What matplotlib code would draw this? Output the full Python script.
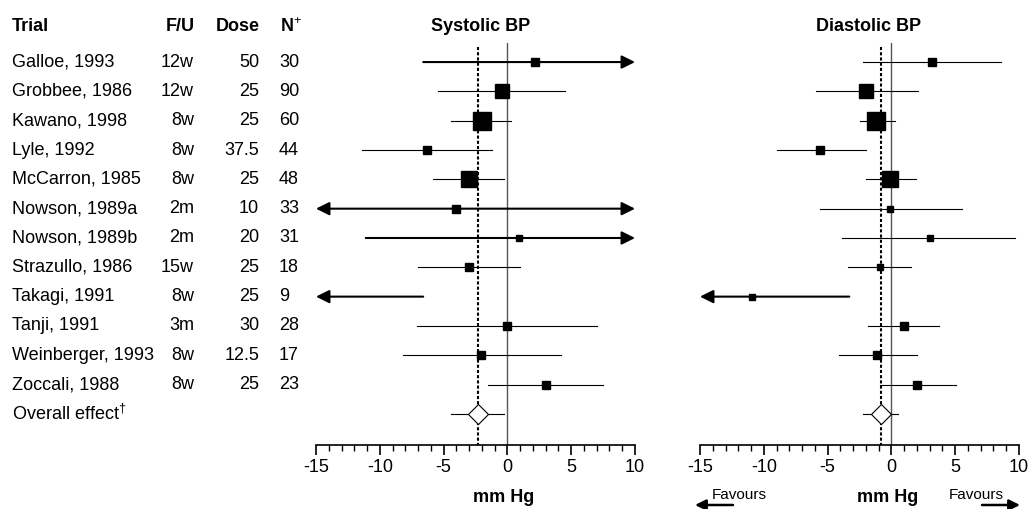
import numpy as np
import matplotlib
matplotlib.use('Agg')
import matplotlib.pyplot as plt
from matplotlib.transforms import blended_transform_factory

plt.rcParams['font.family'] = ['Liberation Sans', 'DejaVu Sans']
plt.rcParams['axes.unicode_minus'] = False
plt.rcParams['mathtext.fontset'] = 'custom'
plt.rcParams['mathtext.rm'] = 'Liberation Sans'
plt.rcParams['mathtext.bf'] = 'Liberation Sans:bold'

trials = ['Galloe, 1993', 'Grobbee, 1986', 'Kawano, 1998', 'Lyle, 1992',
          'McCarron, 1985', 'Nowson, 1989a', 'Nowson, 1989b', 'Strazullo, 1986',
          'Takagi, 1991', 'Tanji, 1991', 'Weinberger, 1993', 'Zoccali, 1988']
follow_up = ['12w', '12w', '8w', '8w', '8w', '2m', '2m', '15w', '8w', '3m', '8w', '8w']
dose = ['50', '25', '25', '37.5', '25', '10', '20', '25', '25', '30', '12.5', '25']
n_pts = ['30', '90', '60', '44', '48', '33', '31', '18', '9', '28', '17', '23']

# None = falls outside the -15..10 scale (drawn as an arrow)
sbp_mean = [2.2, -0.4, -2.0, -6.3, -3.0, -4.0, 0.9, -3.0, None, 0.0, -2.1, 3.0]
sbp_lo = [-6.6, -5.4, -4.4, -11.4, -5.8, None, -11.1, -7.0, None, -7.1, -8.2, -1.5]
sbp_hi = [None, 4.5, 0.3, -1.2, -0.3, None, None, 1.0, -6.6, 7.0, 4.2, 7.5]
sbp_wt = [5.0, 14.5, 25.1, 5.3, 22.4, 4.6, 3.8, 4.1, None, 5.3, 4.6, 5.3]
sbp_overall = [-2.3, -4.4, -0.3]

dbp_mean = [3.2, -2.0, -1.2, -5.6, -0.1, -0.1, 3.0, -0.9, -10.9, 1.0, -1.1, 2.0]
dbp_lo = [-2.2, -5.9, -2.5, -9.0, -2.0, -5.6, -3.9, -3.4, None, -1.8, -4.1, -0.9]
dbp_hi = [8.6, 2.1, 0.3, -2.0, 1.9, 5.5, 9.7, 1.5, -3.3, 3.7, 2.0, 5.1]
dbp_wt = [5.1, 13.9, 27.1, 6.0, 19.5, 3.9, 3.9, 3.9, 2.8, 4.6, 4.2, 5.1]
dbp_overall = [-0.8, -2.2, 0.5]

x_ticks = [-15, -10, -5, 0, 5, 10]

W, H = 1028, 509
fig = plt.figure(figsize=(W / 100, H / 100), dpi=100)

def px(x, y):
    return x / W, 1 - y / H

ax1 = fig.add_axes([316 / W, 64 / H, 319 / W, 402 / H])
ax2 = fig.add_axes([700 / W, 64 / H, 319 / W, 402 / H])

ntr = len(trials)
ytop, ybot = -0.65, 13.06


def forest(ax, mean, lo, hi, wt, overall):
    xmin, xmax = x_ticks[0], x_ticks[-1]
    ax.axvline(0, color='#555555', lw=1.0, zorder=1)
    ax.vlines(overall[0], -0.51, ybot, colors='k', lw=1.5,
              linestyles=(0, (1.5, 1.0)), zorder=2)
    for i in range(ntr):
        a = xmin if lo[i] is None else lo[i]
        b = xmax if hi[i] is None else hi[i]
        if lo[i] is None or hi[i] is None:
            if lo[i] is None and hi[i] is None:
                style = '<|-|>'
            elif lo[i] is None:
                style = '<|-'
            else:
                style = '-|>'
            ax.annotate('', xy=(b, i), xytext=(a, i), annotation_clip=False,
                        arrowprops=dict(arrowstyle=style, lw=1.5, color='k',
                                        mutation_scale=20, shrinkA=0, shrinkB=0),
                        zorder=3)
        else:
            ax.plot([a, b], [i, i], color='k', lw=0.8, zorder=3)
        if mean[i] is not None:
            ax.plot(mean[i], i, 's', ms=0.72 * 3.5 * np.sqrt(wt[i]),
                    color='k', zorder=4)
    ax.plot([overall[1], overall[2]], [ntr, ntr], color='k', lw=0.8, zorder=3)
    ax.plot(overall[0], ntr, 'D', ms=10, mfc='white', mec='k', mew=0.8, zorder=5)

    ax.set_xlim(xmin, xmax)
    ax.set_ylim(ybot, ytop)
    for s in ['left', 'right', 'top']:
        ax.spines[s].set_visible(False)
    ax.spines['bottom'].set_linewidth(1.2)
    ax.set_yticks([])
    ax.set_xticks(x_ticks)
    ax.set_xticks(np.arange(xmin, xmax + 1, 1), minor=True)
    ax.tick_params(axis='x', which='major', length=7, width=1.2, labelsize=13, pad=3)
    ax.tick_params(axis='x', which='minor', length=4, width=1.0)
    ax.patch.set_visible(False)


forest(ax1, sbp_mean, sbp_lo, sbp_hi, sbp_wt, sbp_overall)
forest(ax2, dbp_mean, dbp_lo, dbp_hi, dbp_wt, dbp_overall)

# table of trials on the left
tr = blended_transform_factory(fig.transFigure, ax1.transData)
hy = -1.21
fs = 13
fig.text(12 / W, hy, 'Trial', transform=tr, fontsize=fs, fontweight='bold', va='center')
fig.text(195 / W, hy, 'F/U', transform=tr, fontsize=fs, fontweight='bold', va='center', ha='right')
fig.text(260 / W, hy, 'Dose', transform=tr, fontsize=fs, fontweight='bold', va='center', ha='right')
fig.text(280 / W, hy, r'N$^{+}$', transform=tr, fontsize=fs, fontweight='bold', va='center')
for i in range(ntr):
    fig.text(12 / W, i, trials[i], transform=tr, fontsize=fs, va='center')
    fig.text(194 / W, i, follow_up[i], transform=tr, fontsize=fs, va='center', ha='right')
    fig.text(259 / W, i, dose[i], transform=tr, fontsize=fs, va='center', ha='right')
    fig.text(279 / W, i, n_pts[i], transform=tr, fontsize=fs, va='center')
fig.text(12 / W, ntr, r'Overall effect$^{\dagger}$', transform=tr, fontsize=fs, va='center')

fig.text(481 / W, hy, 'Systolic BP', transform=tr, fontsize=fs, fontweight='bold',
         va='center', ha='center')
fig.text(869 / W, hy, 'Diastolic BP', transform=tr, fontsize=fs, fontweight='bold',
         va='center', ha='center')

fig.text(*px(504, 497), 'mm Hg', fontsize=fs, fontweight='bold', va='center', ha='center')
fig.text(*px(888, 497), 'mm Hg', fontsize=fs, fontweight='bold', va='center', ha='center')

# favours arrows under the diastolic panel
fig.text(*px(739, 495), 'Favours', fontsize=11, va='center', ha='center')
fig.text(*px(976, 495), 'Favours', fontsize=11, va='center', ha='center')
fig.add_artist(matplotlib.patches.FancyArrowPatch(
    px(733, 505), px(695, 505), transform=fig.transFigure, arrowstyle='-|>',
    lw=1.8, color='k', mutation_scale=16, shrinkA=0, shrinkB=0))
fig.add_artist(matplotlib.patches.FancyArrowPatch(
    px(982, 505), px(1020, 505), transform=fig.transFigure, arrowstyle='-|>',
    lw=1.8, color='k', mutation_scale=16, shrinkA=0, shrinkB=0))

fig.savefig('out.png', dpi=100)
